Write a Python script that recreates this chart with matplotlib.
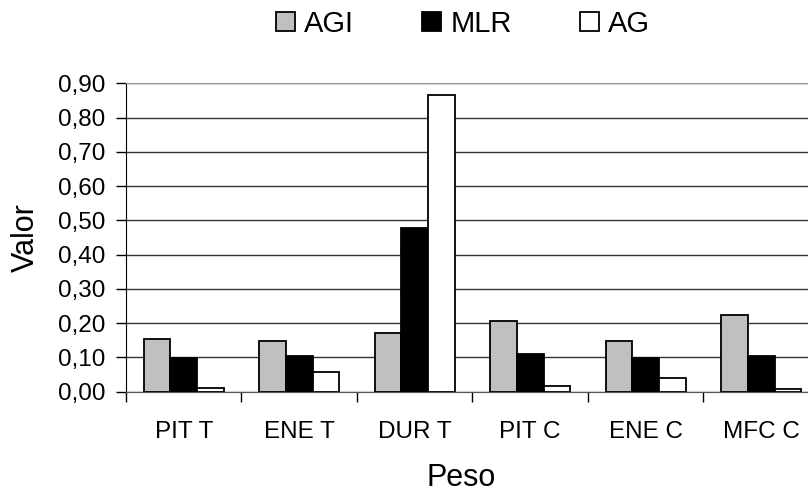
import numpy as np
import matplotlib.pyplot as plt
from matplotlib.ticker import FuncFormatter

plt.rcParams['font.family'] = ['Liberation Sans', 'DejaVu Sans']

pesos = ['PIT T', 'ENE T', 'DUR T', 'PIT C', 'ENE C', 'MFC C']
agi = [0.155, 0.149, 0.172, 0.206, 0.149, 0.224]
mlr = [0.099, 0.104, 0.477, 0.111, 0.099, 0.104]
ag = [0.012, 0.058, 0.867, 0.017, 0.041, 0.007]

fig = plt.figure(figsize=(8.08, 4.92), dpi=100)
ax = fig.add_axes([0.1559, 0.2039, 0.8577, 0.6268])

x = np.arange(len(pesos))
w = 0.23
b1 = ax.bar(x - w, agi, w, color='#c0c0c0', edgecolor='black', linewidth=1.3, zorder=3, label='AGI')
b2 = ax.bar(x, mlr, w, color='black', edgecolor='black', linewidth=1.3, zorder=3, label='MLR')
b3 = ax.bar(x + w, ag, w, color='white', edgecolor='black', linewidth=1.3, zorder=3, label='AG')

ax.set_xlim(-0.5, len(pesos) - 0.5)
ax.set_ylim(0, 0.9)
ax.set_yticks(np.arange(0, 0.91, 0.1))
ax.yaxis.set_major_formatter(FuncFormatter(lambda v, p: f'{v:.2f}'.replace('.', ',')))
ax.grid(axis='y', color='#333333', linewidth=1.0, zorder=0)

# category separators as tick marks
ax.set_xticks(np.arange(-0.5, len(pesos) - 0.5, 1.0))
ax.set_xticklabels([])
ax.set_xticks(x, minor=True)
ax.set_xticklabels(pesos, minor=True)
ax.tick_params(axis='x', which='minor', length=0, pad=21, labelsize=17.5)
ax.tick_params(axis='x', which='major', length=7, width=1, direction='out')
ax.tick_params(axis='y', length=7, width=1, direction='out', labelsize=17.5, pad=8)

ax.spines['right'].set_visible(False)
ax.spines['top'].set_color('#999999')
ax.spines['left'].set_color('black')
ax.spines['bottom'].set_color('#555555')

ax.set_ylabel('Valor', fontsize=22, labelpad=12)
ax.set_xlabel('Peso', fontsize=22)
ax.xaxis.set_label_coords(0.483, -0.232)

fig.legend(handles=[b1, b2, b3], labels=['AGI', 'MLR', 'AG'], ncol=3,
           loc='center', bbox_to_anchor=(463 / 808, 1 - 24 / 492),
           frameon=False, fontsize=21, handlelength=0.65, handleheight=0.62,
           handletextpad=0.3, columnspacing=2.35)

fig.savefig('out.png', dpi=100)
